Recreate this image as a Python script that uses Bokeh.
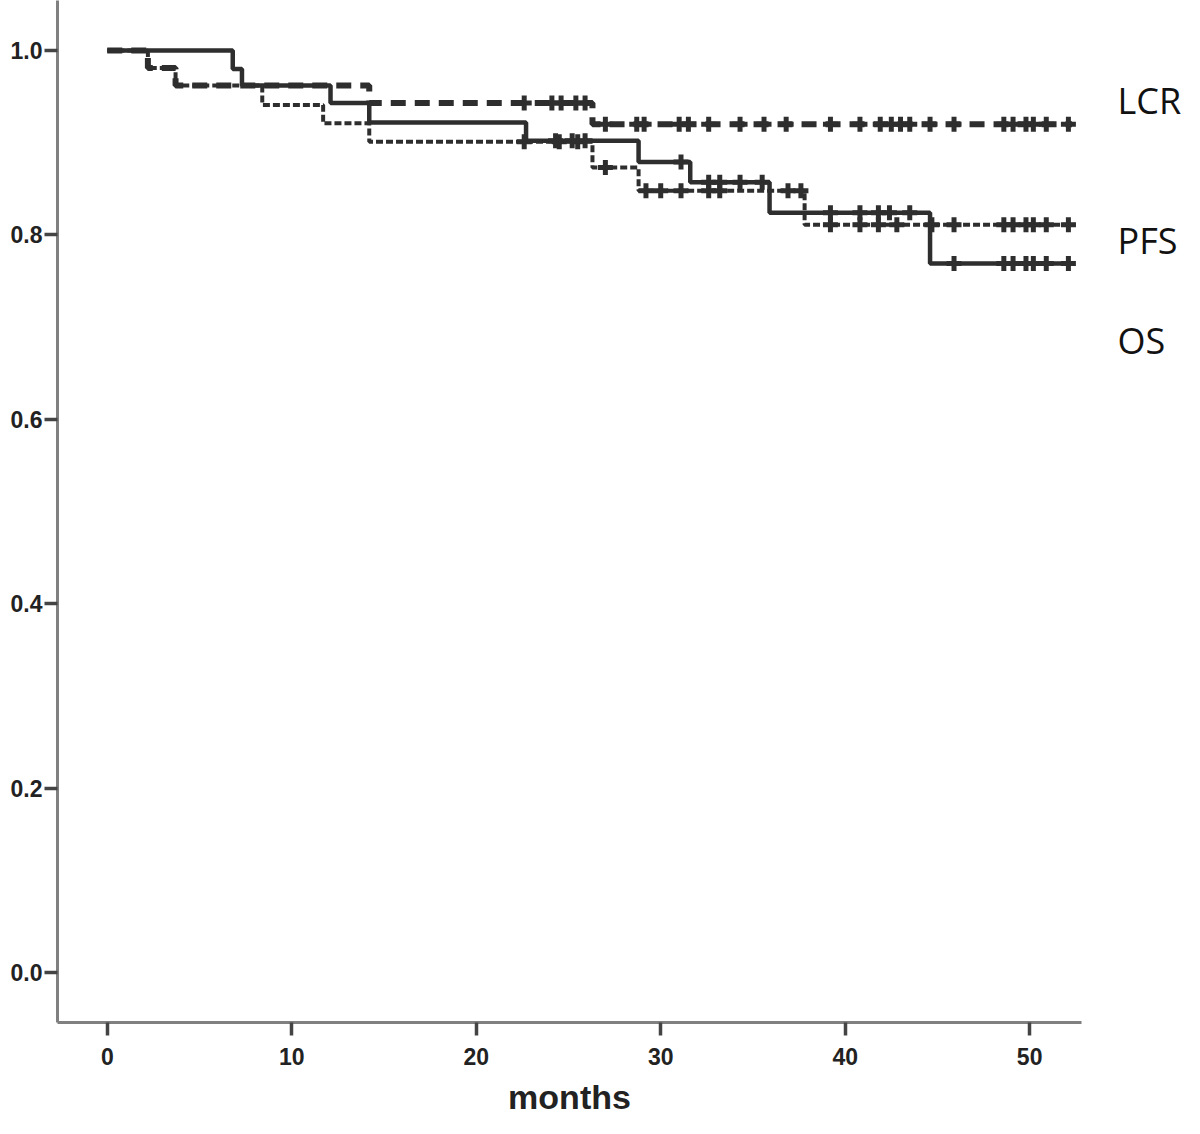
import numpy as np
from bokeh.plotting import figure
from bokeh.models import Range1d, FixedTicker, LinearAxis, CustomJSTickFormatter
from bokeh.embed import file_html
from bokeh.resources import INLINE

# ---- data ----
lcr_t = [0, 2.2, 3.7, 14.2, 26.3, 52.3]
lcr_s = [1.0, 0.981, 0.962, 0.943, 0.920, 0.920]
pfs_t = [0, 2.2, 3.7, 8.4, 11.7, 14.2, 26.3, 28.8, 37.8, 52.5]
pfs_s = [1.0, 0.981, 0.962, 0.941, 0.921, 0.901, 0.873, 0.848, 0.811, 0.811]
os_t = [0, 6.8, 7.3, 12.1, 14.2, 22.7, 28.8, 31.6, 35.9, 44.6, 52.2]
os_s = [1.0, 0.980, 0.962, 0.943, 0.922, 0.902, 0.879, 0.857, 0.824, 0.769, 0.769]

lcr_cens = [22.6, 24.1, 24.6, 25.4, 25.9, 27.0, 28.7, 29.1, 31.0, 31.5, 32.6, 34.3, 35.6,
            36.8, 39.2, 40.8, 41.9, 42.5, 43.0, 43.5, 44.6, 45.9, 48.6, 49.1, 49.8, 50.2,
            50.9, 52.1]
pfs_cens = [22.6, 24.5, 25.5, 27.0, 29.2, 30.0, 31.1, 32.6, 33.2, 36.9, 37.6, 39.2, 40.8,
            41.8, 42.8, 44.7, 45.9, 48.6, 49.1, 49.8, 50.2, 50.9, 52.1]
os_cens = [24.3, 25.2, 25.9, 31.1, 32.6, 33.2, 34.3, 35.5, 39.2, 40.8, 41.8, 42.4, 43.5,
           45.9, 48.6, 49.1, 49.8, 50.2, 50.9, 52.1]

x_ticks = [0, 10, 20, 30, 40, 50]
y_ticks = [0.0, 0.2, 0.4, 0.6, 0.8, 1.0]
series_labels = ["LCR", "PFS", "OS"]
label_y = [0.946, 0.794, 0.685]


def step_at(times, surv, t):
    idx = np.searchsorted(np.asarray(times), np.asarray(t), side="right") - 1
    return [surv[i] for i in idx]


W, H = 1184, 1118
p = figure(width=W, height=H, output_backend="svg", toolbar_location=None,
           x_range=Range1d(-2.70, 52.81), y_range=Range1d(-0.0542, 1.0542),
           min_border_left=57, min_border_right=99, min_border_top=0,
           min_border_bottom=96)
p.outline_line_color = None
p.grid.visible = False
p.background_fill_color = "white"
p.border_fill_color = "white"

ink = "#2e2e2e"

# curves
p.step(lcr_t, lcr_s, mode="after", line_color=ink, line_width=6, line_dash="15 9")
p.step(pfs_t, pfs_s, mode="after", line_color=ink, line_width=4, line_dash="7 3")
p.step(os_t, os_s, mode="after", line_color=ink, line_width=4.5)

# censor marks
for ct, (tt, ss) in [(lcr_cens, (lcr_t, lcr_s)), (pfs_cens, (pfs_t, pfs_s)),
                     (os_cens, (os_t, os_s))]:
    p.scatter(ct, step_at(tt, ss, ct), marker="cross", size=15, line_width=5,
              line_color=ink)

# axes
for ax in (p.xaxis[0], p.yaxis[0]):
    ax.axis_line_color = "#808080"
    ax.axis_line_width = 3
    ax.major_tick_line_color = "#444444"
    ax.major_tick_line_width = 3.5
    ax.major_tick_out = 13
    ax.major_tick_in = 0
    ax.minor_tick_line_color = None
    ax.major_label_text_font = "Liberation Sans"
    ax.major_label_text_font_style = "bold"
    ax.major_label_text_font_size = "23px"
    ax.major_label_text_color = "#222222"

p.xaxis.ticker = FixedTicker(ticks=x_ticks)
p.yaxis.ticker = FixedTicker(ticks=y_ticks)
p.yaxis.formatter = CustomJSTickFormatter(code="return tick.toFixed(1);")
p.xaxis.major_label_standoff = 12
p.yaxis.major_label_standoff = 2

p.xaxis.axis_label = "months"
p.xaxis.axis_label_text_font = "Liberation Sans"
p.xaxis.axis_label_text_font_style = "bold"
p.xaxis.axis_label_text_font_size = "34px"
p.xaxis.axis_label_text_color = "#222222"
p.xaxis.axis_label_standoff = 10

# series names on the right, as an unlined right-hand axis
rax = LinearAxis(ticker=FixedTicker(ticks=label_y),
                 major_label_overrides={yy: txt for yy, txt in zip(label_y, series_labels)})
rax.axis_line_color = None
rax.major_tick_line_color = None
rax.minor_tick_line_color = None
rax.major_tick_out = 0
rax.major_tick_in = 0
rax.axis_label_standoff = 0
rax.major_label_standoff = 36
rax.major_label_text_font = "Open Sans"
rax.major_label_text_font_size = "36px"
rax.major_label_text_color = "#111111"
p.add_layout(rax, "right")

open("out.html", "w").write(file_html(p, INLINE))
